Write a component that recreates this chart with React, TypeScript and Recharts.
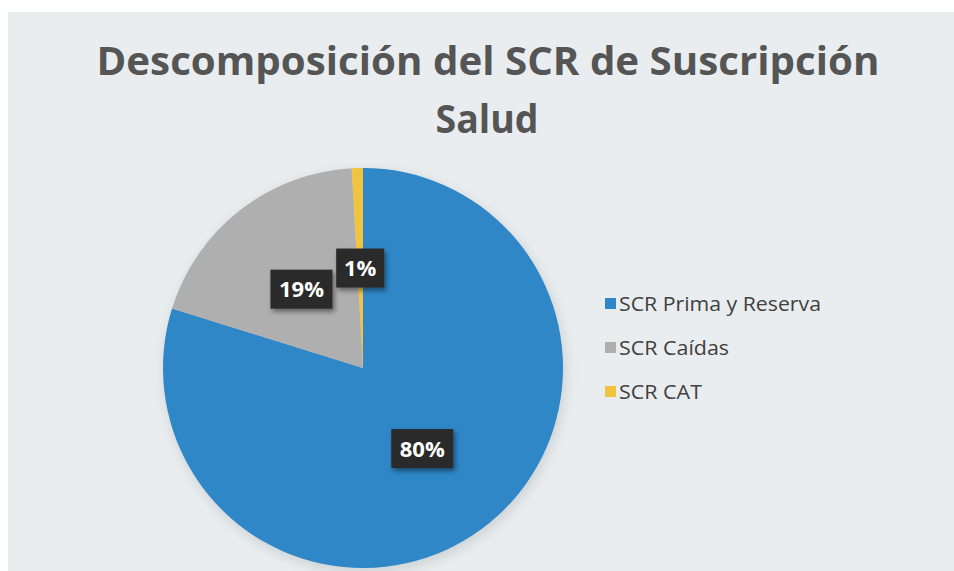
import React from 'react';
import { PieChart, Pie, Cell, Legend, Customized } from 'recharts';

const categories = ['SCR Prima y Reserva', 'SCR Caídas', 'SCR CAT'];
const values = [79.8, 19.3, 0.9];
const labelTexts = ['80%', '19%', '1%'];
const colors = ['#2f87c7', '#afafaf', '#f1c33f'];
const titleLines = ['Descomposición del SCR de Suscripción', 'Salud'];

const data = categories.map((name, i) => ({ name, value: values[i], label: labelTexts[i] }));

const RADIAN = Math.PI / 180;
const FONT = '"Open Sans", "Liberation Sans", sans-serif';

const renderLabel = (props: any) => {
  const { cx, cy, midAngle, outerRadius, index } = props;
  const r = outerRadius * 0.5;
  const x = cx + r * Math.cos(-midAngle * RADIAN);
  const y = cy + r * Math.sin(-midAngle * RADIAN);
  const txt = labelTexts[index];
  const w = txt.length === 2 ? 48 : 62;
  const h = 39;
  return (
    <g key={`lbl-${index}`}>
      <rect x={x - w / 2} y={y - h / 2} width={w} height={h} fill="#2b2b2b" filter="url(#boxShadow)" />
      <text
        x={x}
        y={y + 8}
        textAnchor="middle"
        fill="#ffffff"
        fontFamily={FONT}
        fontWeight={700}
        fontSize={22}
      >
        {txt}
      </text>
    </g>
  );
};

const Background = () => (
  <g>
    <defs>
      <filter id="boxShadow" x="-30%" y="-30%" width="170%" height="170%">
        <feDropShadow dx="2" dy="3" stdDeviation="2.5" floodColor="#000" floodOpacity="0.45" />
      </filter>
      <filter id="pieShadow" x="-20%" y="-20%" width="140%" height="140%">
        <feGaussianBlur stdDeviation="6" />
      </filter>
    </defs>
    <rect x={8} y={12} width={946} height={559} fill="#e9edef" />
    <circle cx={365} cy={372} r={201} fill="#9aa3a8" opacity={0.35} filter="url(#pieShadow)" />
  </g>
);

const Title = () => (
  <g fontFamily={FONT} fontWeight={700} fill="#555555">
    <text x={488} y={75} textAnchor="middle" fontSize={40} textLength={783} lengthAdjust="spacingAndGlyphs">
      {titleLines[0]}
    </text>
    <text x={487} y={133} textAnchor="middle" fontSize={40} textLength={103} lengthAdjust="spacingAndGlyphs">
      {titleLines[1]}
    </text>
  </g>
);

const legendWidths = [202, 110, 83];
const renderLegend = () => (
  <svg width={260} height={130} style={{ display: 'block' }}>
    {categories.map((name, i) => {
      const cyRow = 18.5 + i * 44;
      return (
        <g key={name}>
          <rect x={5} y={cyRow - 5.5} width={11} height={11} fill={colors[i]} />
          <text
            x={19}
            y={cyRow + 7}
            fontFamily={FONT}
            fontSize={20}
            fill="#404040"
            textLength={legendWidths[i]}
            lengthAdjust="spacingAndGlyphs"
          >
            {name}
          </text>
        </g>
      );
    })}
  </svg>
);

export default function App() {
  return (
    <div style={{ position: 'absolute', left: 0, top: 0, width: 954, height: 571, background: '#ffffff' }}>
      <PieChart width={954} height={571} margin={{ top: 0, right: 0, bottom: 0, left: 0 }}>
        <Customized component={Background} />
        <Pie
          data={data}
          dataKey="value"
          nameKey="name"
          cx={363}
          cy={368}
          outerRadius={200}
          startAngle={90}
          endAngle={-270}
          stroke="none"
          label={renderLabel}
          labelLine={false}
          isAnimationActive={false}
        >
          {data.map((d, i) => (
            <Cell key={d.name} fill={colors[i]} />
          ))}
        </Pie>
        <Customized component={Title} />
        <Legend
          content={renderLegend}
          wrapperStyle={{ position: 'absolute', left: 600, top: 285, width: 260, height: 130 }}
        />
      </PieChart>
    </div>
  );
}
